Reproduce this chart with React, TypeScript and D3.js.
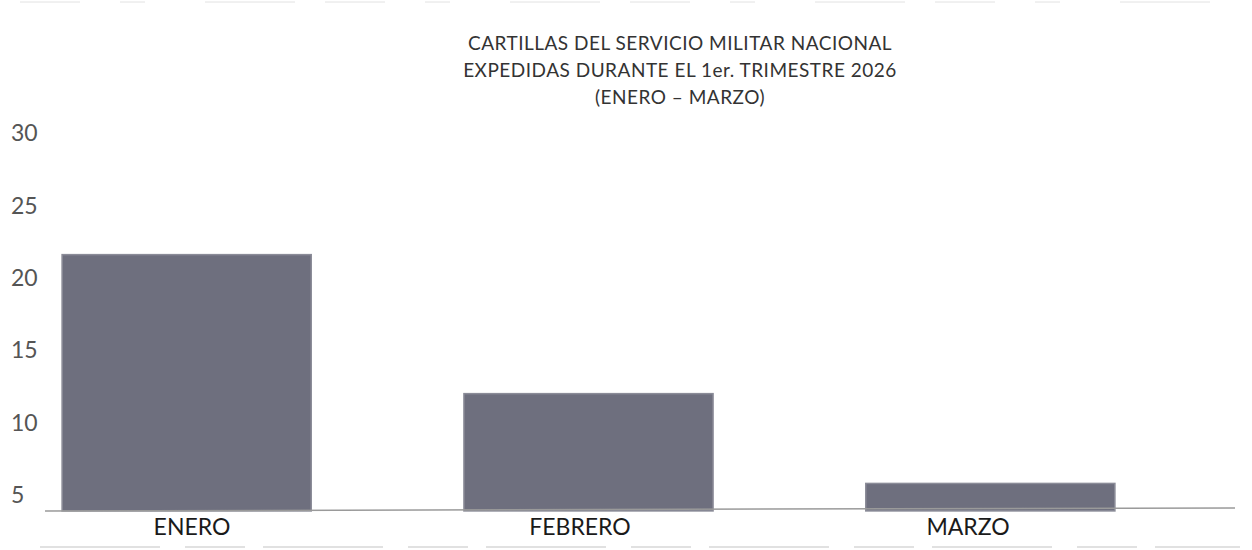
import React from "react";
import * as d3 from "d3";

const categories = ["ENERO", "FEBRERO", "MARZO"];
const values = [21.6, 12.0, 5.8];
const yTicks = [5, 10, 15, 20, 25, 30];
const titleLines = [
  "CARTILLAS DEL SERVICIO MILITAR NACIONAL",
  "EXPEDIDAS DURANTE EL 1er. TRIMESTRE 2026",
  "(ENERO – MARZO)",
];
const axisBaseValue = 3.9;

const W = 1252;
const H = 550;
const FONT = "Lato, 'Open Sans', sans-serif";

export default function App() {
  const y = d3.scaleLinear().domain([5, 30]).range([495, 133]);
  const x = d3
    .scaleBand<string>()
    .domain(categories)
    .range([42, 1135])
    .paddingInner(0.38)
    .paddingOuter(0.05);
  const labelX = d3.scalePoint<string>().domain(categories).range([192, 968]);
  const baseY = y(axisBaseValue);

  return (
    <svg
      width={W}
      height={H}
      style={{ position: "absolute", left: 0, top: 0, background: "#fff" }}
    >
      <rect x={0} y={0} width={W} height={H} fill="#ffffff" />
      {/* faint scan lines */}
      <line x1={20} x2={1240} y1={2} y2={2} stroke="#e2e2e2" strokeWidth={1} strokeDasharray="60 40 25 60 90 30" />
      <line x1={40} x2={1240} y1={547} y2={547} stroke="#d8d8d8" strokeWidth={1.5} strokeDasharray="120 25 60 18" />

      {/* title */}
      {titleLines.map((t, i) => (
        <text
          key={t}
          x={680}
          y={50 + i * 27}
          textAnchor="middle"
          fontFamily={FONT}
          fontSize={19}
          letterSpacing={0.5}
          fill="#333"
        >
          {t}
        </text>
      ))}

      {/* y tick labels */}
      {yTicks.map((v) => (
        <text
          key={v}
          x={11}
          y={y(v)}
          dy="0.36em"
          fontFamily={FONT}
          fontSize={23}
          fill="#555"
        >
          {v}
        </text>
      ))}

      {/* bars */}
      {categories.map((c, i) => (
        <rect
          key={c}
          x={x(c)!}
          y={y(values[i])}
          width={x.bandwidth()}
          height={baseY - y(values[i])}
          fill="#6e6f7e"
          stroke="#8b8c98"
          strokeWidth={1.5}
        />
      ))}

      {/* baseline */}
      <line x1={45} x2={1235} y1={baseY} y2={baseY - 3} stroke="#9a9a9a" strokeWidth={1.5} />

      {/* category labels */}
      {categories.map((c) => (
        <text
          key={c}
          x={labelX(c)!}
          y={baseY + 24}
          textAnchor="middle"
          fontFamily={FONT}
          fontSize={23}
          fill="#1a1a1a"
        >
          {c}
        </text>
      ))}
    </svg>
  );
}
